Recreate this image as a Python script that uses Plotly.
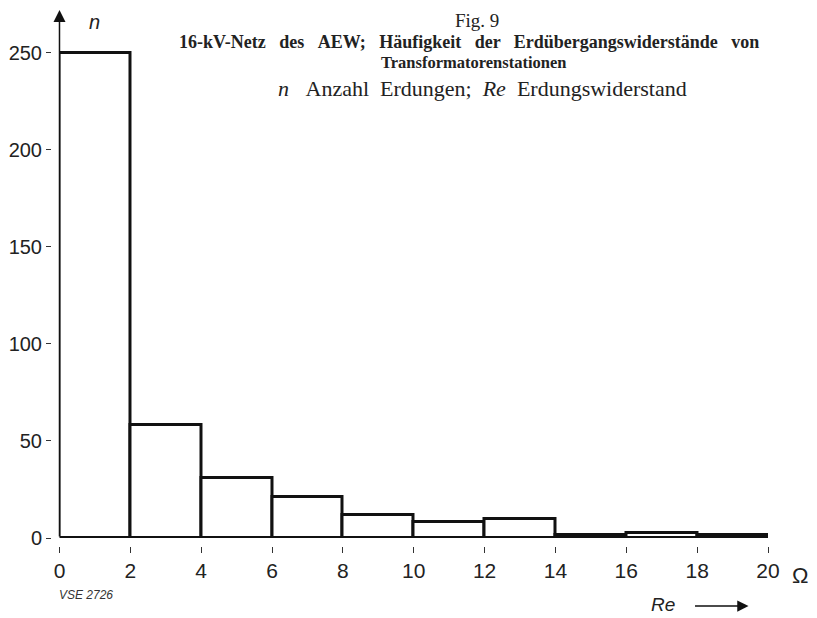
import plotly.graph_objects as go

# Data
bin_left = [0, 2, 4, 6, 8, 10, 12, 14, 16, 18]
bin_width = 2
counts = [250, 58, 31, 21, 12, 8, 10, 1.5, 2.5, 1.5]
x_ticks = [0, 2, 4, 6, 8, 10, 12, 14, 16, 18, 20]
y_ticks = [0, 50, 100, 150, 200, 250]

fig = go.Figure()
fig.add_trace(go.Bar(
    x=[b + bin_width / 2 for b in bin_left],
    y=counts,
    width=bin_width,
    marker=dict(color="white", line=dict(color="#111", width=3)),
    hoverinfo="skip",
))

# page offset (browser body margin) and geometry helpers (page pixel -> paper)
O = 8
FW, FH = 817 - O, 618 - O
L, T = 51 - O, 10 - O
R_ = 48.5
B = FH - (546 - O)
W = FW - L - R_
H = FH - T - B
def px(x):
    return (x - O - L) / W
def py(y):
    return (FH - B - (y - O)) / H

sans = "Liberation Sans, Arial, sans-serif"
serif = "Liberation Serif, Times New Roman, serif"
S = "\u00a0"

fig.update_layout(
    width=FW, height=FH,
    margin=dict(l=L, r=R_, t=T, b=B, autoexpand=False),
    paper_bgcolor="white", plot_bgcolor="white",
    showlegend=False,
    bargap=0,
    xaxis=dict(
        range=[0, 20], domain=[px(59.5), 1], anchor="free", position=0,
        tickvals=x_ticks, ticks="outside", ticklen=6, tickwidth=1, tickcolor="#333",
        showgrid=False, zeroline=False, showline=False, automargin=False,
        tickfont=dict(family=sans, size=21, color="#222"),
    ),
    yaxis=dict(
        range=[0, 272], domain=[py(538), 1], anchor="free", position=0,
        tickvals=y_ticks, ticks="outside", ticklen=5, tickwidth=1, tickcolor="#333",
        showgrid=False, zeroline=False, showline=False, automargin=False,
        tickfont=dict(family=sans, size=20, color="#222"),
    ),
)

def label(x, y, text, font, xanchor="center", yanchor="middle"):
    return dict(x=px(x), y=py(y), xref="paper", yref="paper", showarrow=False,
                xanchor=xanchor, yanchor=yanchor, text=text, font=font)

ann = []
# y-axis line with arrow
ann.append(dict(x=0, y=272, xref="x", yref="y", ax=0, ay=0, axref="x", ayref="y",
                showarrow=True, arrowhead=2, arrowsize=1.6, arrowwidth=1.5,
                arrowcolor="#111", text=""))
# axis labels
ann.append(label(95, 9, "<i>n</i>", dict(family=sans, size=20, color="#222"),
                 yanchor="top"))
ann.append(label(801, 575, "Ω", dict(family=sans, size=22, color="#222")))
ann.append(label(663, 604, "<i>Re</i>", dict(family=sans, size=19, color="#222")))
ann.append(dict(x=px(749), y=py(606), xref="paper", yref="paper", ax=-55, ay=0,
                showarrow=True, arrowhead=2, arrowsize=1.5, arrowwidth=1.5,
                arrowcolor="#111", text=""))
ann.append(label(57, 595, "<i>VSE 2726</i>", dict(family=sans, size=12, color="#333"),
                 xanchor="left"))
# titles
line1 = "16-kV-Netz des AEW; Häufigkeit der Erdübergangswiderstände von"
line1 = line1.replace(" ", " " + S + S)
sub = "<i>n</i> " + S + S + "Anzahl Erdungen; " + S + "<i>Re</i> " + S + "Erdungswiderstand"
sub = sub.replace("Anzahl ", "Anzahl " + S)
ann.append(label(477, 8.5, "Fig." + S + "9", dict(family=serif, size=19, color="#222"),
                 yanchor="top"))
ann.append(label(469, 42, "<b>" + line1 + "</b>", dict(family=serif, size=18, color="#222")))
ann.append(label(474, 63, "<b>Transformatorenstationen</b>",
                 dict(family=serif, size=16.5, color="#222")))
ann.append(label(483, 88, sub, dict(family=serif, size=22, color="#222")))
fig.update_layout(annotations=ann)

fig.write_html("out.html")
